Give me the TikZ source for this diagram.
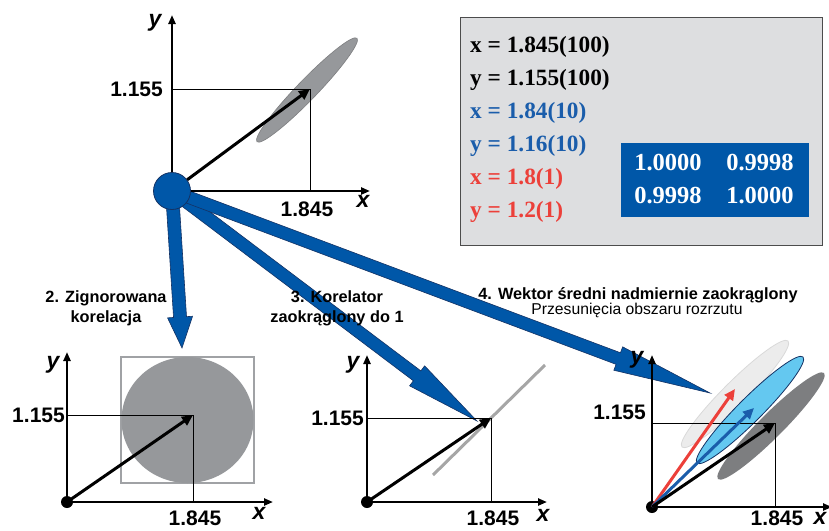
\documentclass[tikz,border=0pt]{standalone}
\usepackage{fontspec}
\setmainfont{Liberation Serif}
\setsansfont{Liberation Sans}
\usetikzlibrary{arrows.meta,calc}
\definecolor{dblue}{RGB}{0,87,168}
\definecolor{dblueedge}{RGB}{20,50,100}
\definecolor{txtblue}{RGB}{26,93,171}
\definecolor{txtred}{RGB}{236,64,58}
\definecolor{boxgray}{RGB}{221,222,224}
\definecolor{ellgray}{RGB}{150,152,155}
\definecolor{darkell}{RGB}{125,126,128}
\definecolor{lightell}{RGB}{236,236,236}
\definecolor{lightblueell}{RGB}{100,200,240}
\newcommand\blockarr[5]{% start, tip, shaft half width, head half width, head length
  \coordinate (ba-h) at ($(#2)!#5!(#1)$);
  \draw[bigarrow] ($(#1)!#3!90:(#2)$) -- ($(ba-h)!#3!90:(#2)$) -- ($(ba-h)!#4!90:(#2)$)
    -- (#2) -- ($(ba-h)!#4!-90:(#2)$) -- ($(ba-h)!#3!-90:(#2)$) -- ($(#1)!#3!-90:(#2)$) -- cycle;}
\begin{document}
\begin{tikzpicture}[x=1pt,y=-1pt,
  axis/.style={line width=2.2pt,-{Triangle[length=9pt,width=7pt]}},
  vec/.style={line width=3pt,-{Triangle[length=11pt,width=10pt]}},
  guide/.style={line width=0.8pt},
  bigarrow/.style={fill=dblue,draw=dblueedge,line width=0.6pt,line join=miter},
  numlbl/.style={font=\sffamily\bfseries\fontsize{21}{24}\selectfont,inner sep=0pt},
  axlbl/.style={font=\sffamily\bfseries\itshape\fontsize{23}{26}\selectfont,inner sep=0pt},
  caption/.style={font=\sffamily\bfseries\fontsize{16.3}{20}\selectfont,align=center,inner sep=0pt},
  boxtxt/.style={font=\bfseries\fontsize{23.3}{26}\selectfont,anchor=base west,inner sep=0pt},
  mattxt/.style={font=\bfseries\fontsize{24.5}{26}\selectfont,anchor=base,inner sep=0pt,text=white},
  dot/.style={circle,fill=black,minimum size=12pt,inner sep=0pt}
]
\useasboundingbox (0,0) rectangle (829,530);

% ---------- coordinates ----------
\coordinate (o0) at (172,191);
\coordinate (t1) at (182,348);
\coordinate (t2) at (477,421);
\coordinate (t3) at (710,393);

% ---------- big blue arrows ----------
\blockarr{o0}{t1}{6.5pt}{12.5pt}{31pt}
\blockarr{o0}{t2}{6.2pt}{12.5pt}{75pt}
\blockarr{o0}{t3}{6.2pt}{12.5pt}{98pt}

% ---------- top panel ----------
\coordinate (y0) at (172,15);
\coordinate (x0) at (370,191);
\coordinate (p0) at (310,89);
\fill[ellgray,draw=darkell,line width=0.6pt,rotate around={46:(307,90)}] (307,90) ellipse [x radius=72pt,y radius=10pt];
\draw[guide] (172,89) -- (p0) -- (310,191);
\node[circle,fill=dblue,draw=dblueedge,line width=0.8pt,minimum size=37pt,inner sep=0pt] (c0) at (o0) {};
\draw[axis] (c0.north) -- (y0);
\draw[axis] (c0.east) -- (x0);
\draw[vec] (c0) -- (p0);
\node[numlbl,anchor=east] (l0y) at (163,89) {1.155};
\node[numlbl] (l0x) at (307,209) {1.845};
\node[axlbl] (ay0) at (155,23) {y};
\node[axlbl] (ax0) at (363,201) {x};

% ---------- info box ----------
\node[draw=black!70,line width=1pt,fill=boxgray,anchor=north west,minimum width=362pt,minimum height=228pt,inner sep=0pt] (box) at (460,17) {};
\node[boxtxt] (b1) at (470,52) {x = 1.845(100)};
\node[boxtxt] (b2) at (470,85) {y = 1.155(100)};
\node[boxtxt,text=txtblue] (b3) at (470,118) {x = 1.84(10)};
\node[boxtxt,text=txtblue] (b4) at (470,151) {y = 1.16(10)};
\node[boxtxt,text=txtred] (b5) at (470,184) {x = 1.8(1)};
\node[boxtxt,text=txtred] (b6) at (470,217) {y = 1.2(1)};
\node[fill=dblue,anchor=north west,minimum width=188pt,minimum height=74pt,inner sep=0pt] (mat) at (621,143) {};
\node[mattxt] (m11) at (668,170) {1.0000};
\node[mattxt] (m12) at (760,170) {0.9998};
\node[mattxt] (m21) at (668,203) {0.9998};
\node[mattxt] (m22) at (760,203) {1.0000};

% ---------- captions ----------
\node[caption] (cap2) at (106,308) {2. Zignorowana\\korelacja};
\node[caption] (cap3) at (337,308) {3. Korelator\\zaokrąglony do 1};
\node[caption] (cap4a) at (638,295) {4. Wektor średni nadmiernie zaokrąglony};
\node[font=\sffamily\fontsize{15.7}{18}\selectfont,inner sep=0pt] (cap4b) at (637,310) {Przesunięcia obszaru rozrzutu};

% ---------- panel 2 ----------
\draw[ellgray!90,line width=2pt] (121,357) rectangle (254,483);
\fill[ellgray] (187.5,420) ellipse [x radius=66pt,y radius=63pt];
\node[dot] (o1) at (67,502) {};
\coordinate (y1) at (67,352);
\coordinate (x1) at (273,502);
\coordinate (p1) at (193,415);
\draw[guide] (67,415) -- (p1) -- (193,502);
\draw[axis] (o1.center) -- (y1);
\draw[axis] (o1.center) -- (x1);
\draw[vec] (o1.center) -- (p1);
\node[numlbl,anchor=east] (l1y) at (65,415) {1.155};
\node[numlbl] (l1x) at (195,518) {1.845};
\node[axlbl] (ay1) at (53,365) {y};
\node[axlbl] (ax1) at (259,513) {x};

% ---------- panel 3 ----------
\node[dot] (o2) at (367,502) {};
\coordinate (y2) at (367,355);
\coordinate (x2) at (547,502);
\coordinate (p2) at (491,418);
\draw[black!35,line width=3pt] (433,475) -- (545,365);
\draw[guide] (367,418) -- (p2) -- (491,502);
\draw[axis] (o2.center) -- (y2);
\draw[axis] (o2.center) -- (x2);
\draw[vec] (o2.center) -- (p2);
\node[numlbl,anchor=east] (l2y) at (364,418) {1.155};
\node[numlbl] (l2x) at (493,518) {1.845};
\node[axlbl] (ay2) at (353,365) {y};
\node[axlbl] (ax2) at (543,515) {x};

% ---------- panel 4 ----------
\fill[lightell,draw=black!15,line width=0.8pt,rotate around={45:(735,394)}] (735,394) ellipse [x radius=75pt,y radius=12pt];
\fill[lightblueell,draw=dblueedge,line width=0.8pt,rotate around={45:(750,410)}] (750,410) ellipse [x radius=75pt,y radius=12pt];
\fill[darkell,rotate around={45:(771,426)}] (771,426) ellipse [x radius=75pt,y radius=12pt];
\node[dot] (o3) at (652,507) {};
\coordinate (y3) at (652,355);
\coordinate (x3) at (832,507);
\coordinate (p3) at (775,423);
\coordinate (pr) at (735,389);
\coordinate (pb) at (754,408);
\draw[guide] (652,423) -- (p3) -- (775,507);
\draw[axis] (o3.center) -- (y3);
\draw[axis] (o3.center) -- (x3);
\draw[vec,draw=txtred,fill=txtred] (o3.center) -- (pr);
\draw[vec,draw=txtblue,fill=txtblue] (o3.center) -- (pb);
\draw[vec] (o3.center) -- (p3);
\node[numlbl,anchor=east] (l3y) at (646,412) {1.155};
\node[numlbl] (l3x) at (777,518) {1.845};
\node[axlbl] (ay3) at (637,360) {y};
\node[axlbl] (ax3) at (820,518) {x};
\end{tikzpicture}
\end{document}
